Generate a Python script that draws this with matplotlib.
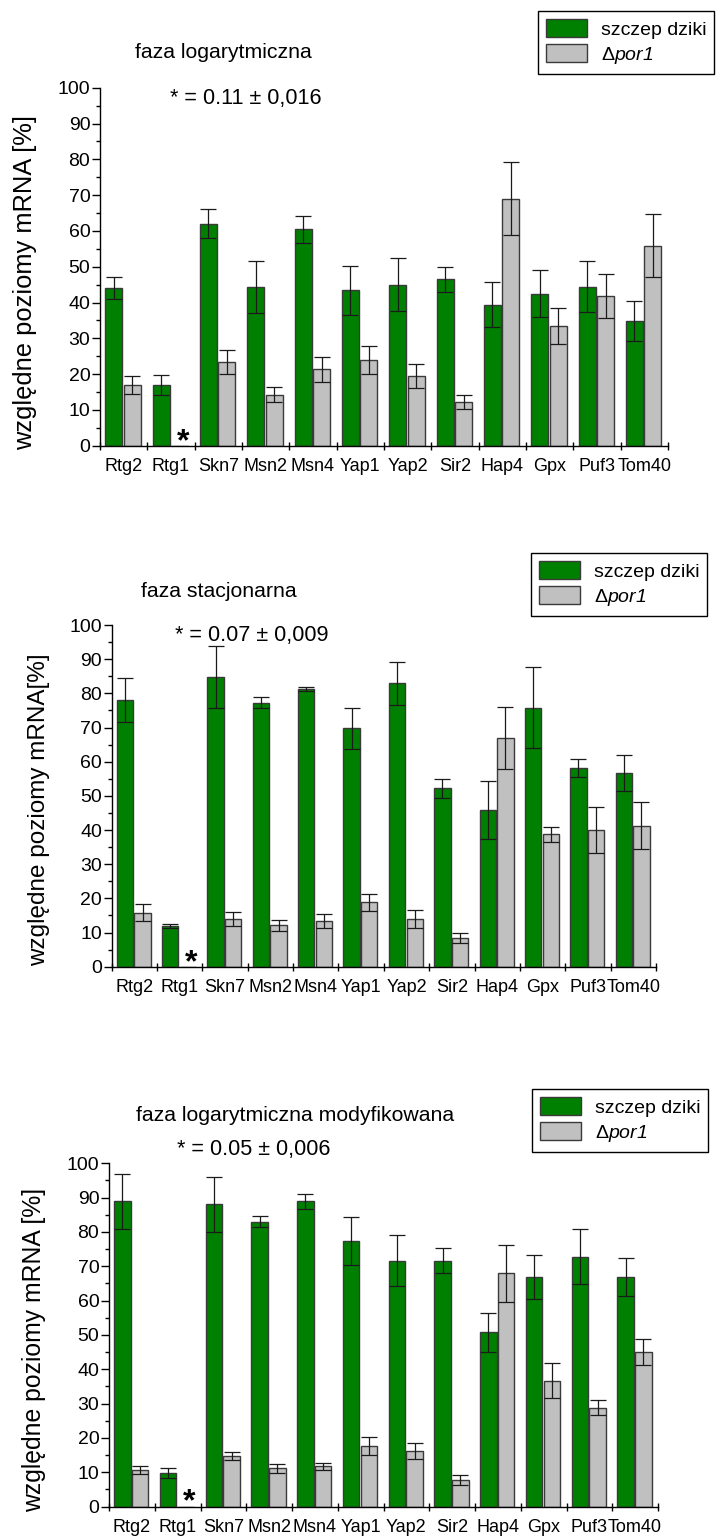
import numpy as np
import matplotlib
matplotlib.use("Agg")
from matplotlib import pyplot as plt
from matplotlib.patches import Patch
from matplotlib.ticker import MultipleLocator

plt.rcParams.update({
    'font.family': ['Liberation Sans', 'DejaVu Sans'],
    'mathtext.fontset': 'custom',
    'mathtext.rm': 'Liberation Sans',
    'mathtext.it': 'Liberation Sans:italic',
})

genes = ["Rtg2", "Rtg1", "Skn7", "Msn2", "Msn4", "Yap1",
         "Yap2", "Sir2", "Hap4", "Gpx", "Puf3", "Tom40"]

# faza logarytmiczna
log_wt = [44.0, 17.0, 62.0, 44.4, 60.4, 43.4, 44.9, 46.5, 39.4, 42.5, 44.4, 34.9]
log_wt_err = [3.0, 2.8, 4.0, 7.3, 3.7, 6.8, 7.4, 3.5, 6.2, 6.6, 7.1, 5.6]
log_por1 = [17.0, 0.0, 23.4, 14.3, 21.4, 23.9, 19.4, 12.3, 69.0, 33.4, 41.9, 55.9]
log_por1_err = [2.5, 0.0, 3.3, 2.1, 3.5, 4.0, 3.3, 2.0, 10.2, 5.0, 6.2, 8.8]

# faza stacjonarna
stat_wt = [78.0, 11.9, 84.8, 77.3, 81.3, 69.8, 82.9, 52.2, 45.9, 75.8, 58.2, 56.8]
stat_wt_err = [6.4, 0.6, 9.2, 1.6, 0.5, 6.0, 6.2, 2.7, 8.4, 11.9, 2.6, 5.3]
stat_por1 = [15.8, 0.0, 13.9, 12.1, 13.4, 18.8, 13.9, 8.3, 66.9, 38.7, 39.9, 41.3]
stat_por1_err = [2.5, 0.0, 2.0, 1.7, 2.0, 2.5, 2.7, 1.5, 9.1, 2.2, 6.7, 6.9]

# faza logarytmiczna modyfikowana
mod_wt = [89.0, 9.7, 88.0, 83.0, 89.0, 77.4, 71.6, 71.6, 50.8, 66.9, 72.8, 66.9]
mod_wt_err = [8.0, 1.4, 7.9, 1.5, 2.2, 6.9, 7.4, 3.7, 5.7, 6.3, 8.1, 5.6]
mod_por1 = [10.6, 0.0, 14.8, 11.1, 11.7, 17.7, 16.1, 7.8, 68.0, 36.7, 28.8, 45.0]
mod_por1_err = [1.1, 0.0, 1.2, 1.3, 1.1, 2.6, 2.3, 1.4, 8.3, 5.0, 2.1, 3.7]

W, H = 718, 1539
GREEN = '#008000'
GRAY = '#c0c0c0'
EDGE = '#3a3a3a'


def px(x, y):
    """pixel position (from top-left) -> figure fraction"""
    return x / W, 1 - y / H


def plot_panel(ax, wt, wt_err, por1, por1_err, ylabel, ylabel_pos, ylabel_size):
    """
    Draws one grouped bar panel: wild type (green) and por1 deletion (gray)
    with error bars; the asterisk marks the missing Rtg1 value.
    """
    x = np.arange(len(genes))
    width = 0.36
    x_wt = x - 0.21
    x_por = x + 0.18
    ax.bar(x_wt, wt, width, color=GREEN, edgecolor=EDGE, linewidth=1.0, zorder=2)
    ax.bar(x_por, por1, width, color=GRAY, edgecolor=EDGE, linewidth=1.0, zorder=2)

    # error bars (skip the empty bar)
    wt = np.array(wt); por1 = np.array(por1)
    ok = por1 > 0
    ax.errorbar(x_wt, wt, yerr=wt_err, fmt='none', ecolor='#1a1a1a',
                elinewidth=0.9, capsize=5.6, capthick=0.9, zorder=3)
    ax.errorbar(x_por[ok], por1[ok], yerr=np.array(por1_err)[ok], fmt='none',
                ecolor='#1a1a1a', elinewidth=0.9, capsize=5.6, capthick=0.9, zorder=3)

    # bold star over the Rtg1 mutant position
    ax.text(1.25, -1.2, '*', ha='center', va='baseline', fontsize=23,
            fontweight='bold', clip_on=False, zorder=4)

    # axes
    ax.set_xlim(-0.5, len(genes) - 0.5)
    ax.set_ylim(0, 100)
    ax.set_xticks(x)
    ax.set_xticklabels(genes, fontsize=13)
    ax.set_xticks(np.arange(-0.5, len(genes), 1), minor=True)
    ax.tick_params(axis='x', which='major', length=0, pad=9)
    ax.tick_params(axis='x', which='minor', direction='inout', length=6, width=1.0)
    ax.set_yticks(np.arange(0, 101, 10))
    ax.yaxis.set_minor_locator(MultipleLocator(5))
    ax.tick_params(axis='y', which='major', direction='out', length=5.5, width=1.0,
                   labelsize=14, pad=1.5)
    ax.tick_params(axis='y', which='minor', direction='out', length=3.2, width=1.0)
    for s in ['top', 'right']:
        ax.spines[s].set_visible(False)
    for s in ['left', 'bottom']:
        ax.spines[s].set_linewidth(1.0)

    ax.text(ylabel_pos[0], ylabel_pos[1], ylabel, transform=ax.transAxes,
            rotation=90, ha='center', va='center', fontsize=ylabel_size)


fig = plt.figure(figsize=(W / 100, H / 100), dpi=100)

# axes boxes in pixels: left, right, top (y=100), bottom (y=0)
boxes = [(100, 668, 87.7, 445.7), (111.7, 656, 625, 966.7), (109, 658, 1163.3, 1506.5)]
panels = [
    (log_wt, log_wt_err, log_por1, log_por1_err,
     'względne poziomy mRNA [%]', (-0.132, 0.456), 18.4),
    (stat_wt, stat_wt_err, stat_por1, stat_por1_err,
     'względne poziomy mRNA[%]', (-0.134, 0.459), 17.5),
    (mod_wt, mod_wt_err, mod_por1, mod_por1_err,
     'względne poziomy mRNA [%]', (-0.137, 0.456), 17.8),
]
titles = [
    ('faza logarytmiczna', 223, 58),
    ('faza stacjonarna', 219, 597),
    ('faza logarytmiczna modyfikowana', 295, 1121),
]
star_notes = [
    ('* = 0.11 ± 0,016', 246, 104),
    ('* = 0.07 ± 0,009', 252, 641),
    ('* = 0.05 ± 0,006', 254, 1155),
]
legend_pos = [(538, 11), (531, 553), (532, 1089)]

handles = [Patch(facecolor=GREEN, edgecolor=EDGE, linewidth=1.0),
           Patch(facecolor=GRAY, edgecolor=EDGE, linewidth=1.0)]
labels = ['szczep dziki', r'$\Delta$por1']

for i, (l, r, t, b) in enumerate(boxes):
    ax = fig.add_axes([l / W, 1 - b / H, (r - l) / W, (b - t) / H])
    plot_panel(ax, *panels[i])

    text, tx, ty = titles[i]
    fig.text(*px(tx, ty), text, ha='center', va='baseline', fontsize=15.3)
    text, tx, ty = star_notes[i]
    fig.text(*px(tx, ty), text, ha='center', va='baseline', fontsize=15.6)

    lx, ly = legend_pos[i]
    leg = fig.legend(handles, labels, loc='upper left', bbox_to_anchor=px(lx, ly),
                     borderaxespad=0, fontsize=14, handlelength=2.1, handleheight=1.05,
                     handletextpad=0.7, labelspacing=0.28, borderpad=0.42,
                     fancybox=False, framealpha=1)
    leg.get_frame().set_edgecolor('black')
    leg.get_frame().set_linewidth(1.0)
    leg.get_texts()[1].set_fontstyle('italic')

fig.savefig('out.png', dpi=100)
plt.close(fig)
